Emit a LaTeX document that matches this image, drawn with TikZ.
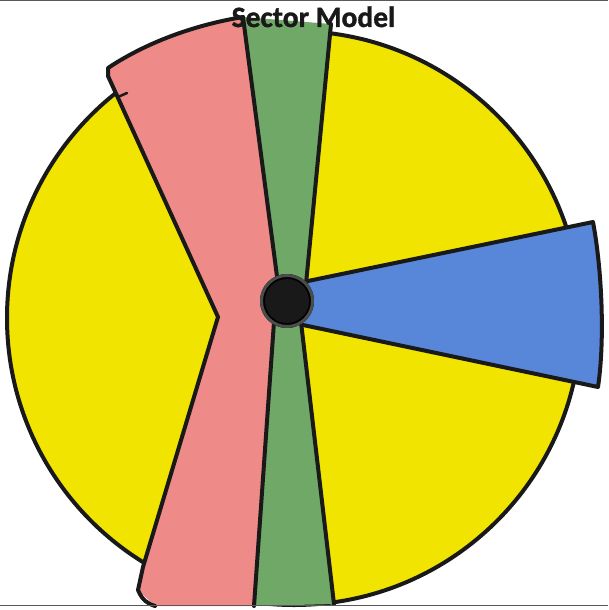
\documentclass[tikz,border=0pt]{standalone}
\usepackage{fontspec}
\newfontfamily\titlefont[BoldFont={* Bold},BoldFeatures={FakeBold=1.2}]{Carlito}
\definecolor{yel}{RGB}{240,228,0}
\definecolor{redc}{RGB}{238,138,136}
\definecolor{grn}{RGB}{112,168,104}
\definecolor{blu}{RGB}{88,134,216}
\definecolor{ink}{RGB}{25,25,25}
\tikzset{
  edge/.style={draw=ink,line width=4pt,line cap=round,line join=round},
  frameline/.style={draw=black!65,line width=1pt}
}
\begin{document}
\begin{tikzpicture}[x=1pt,y=-1pt]
\useasboundingbox (0,0) rectangle (608,610);
% named points
\coordinate (ctr) at (294,318);
\coordinate (hub) at (287,301);
\coordinate (gLT) at (243,17);
\coordinate (gRT) at (331,24);
\coordinate (gLH) at (278,284);
\coordinate (gRH) at (306,284);
\coordinate (gLL) at (274,322);
\coordinate (gRL) at (301,322);
\coordinate (gLB) at (254,606);
\coordinate (gRB) at (334,604);
\coordinate (rTL) at (108,76);
\coordinate (notch) at (218,317);
\coordinate (rBL) at (143,567);
\coordinate (bTL) at (308,281);
\coordinate (bTR) at (593,222);
\coordinate (bBR) at (598,387);
\coordinate (bBL) at (303,325);
% yellow disc
\fill[yel] (ctr) circle (287);
\draw[edge] (ctr) circle (287);
% red bow-tie
\fill[redc] (rTL) -- (108,68) .. controls (150,40) and (200,24) .. (gLT) -- (gLH) -- (gLL) -- (gLB) -- (155,606) -- (138,590) -- (rBL) -- (notch) -- cycle;
% green band
\fill[grn] (gLT) -- (gRT) -- (gRH) -- (gLH) -- cycle;
\fill[grn] (gLL) -- (gRL) -- (gRB) -- (gLB) -- cycle;
% blue wedge
\fill[blu] (bTL) -- (bTR) .. controls (602,270) and (605,340) .. (bBR) -- (bBL) -- cycle;
% outlines
\draw[edge] (rTL) -- (108,68) .. controls (150,40) and (200,24) .. (gLT);
\draw[edge] (rTL) -- (notch) -- (rBL) -- (138,590) .. controls (142,600) and (148,604) .. (155,606);
\draw[edge,line width=2.5pt] (118,97) -- (127,93);
\draw[edge] (gLT) -- (gLH);
\draw[edge] (gRT) -- (gRH);
\draw[edge] (gLL) -- (gLB);
\draw[edge] (gRL) -- (gRB);
\draw[edge] (bTL) -- (bTR) .. controls (602,270) and (605,340) .. (bBR) -- (bBL);
% hub
\fill[black] (hub) circle (27);
\draw[black!70,line width=3pt] (hub) circle (25.5);
\fill[ink] (hub) circle (22);
% frame lines
\draw[frameline] (0,1) -- (608,1);
\draw[frameline] (0,605.5) -- (608,605.5);
% title
\node[anchor=base,inner sep=0pt,text=ink,font=\titlefont\bfseries\fontsize{29.5}{30}\selectfont] (title) at (313.5,27) {Sector Model};
\end{tikzpicture}
\end{document}
